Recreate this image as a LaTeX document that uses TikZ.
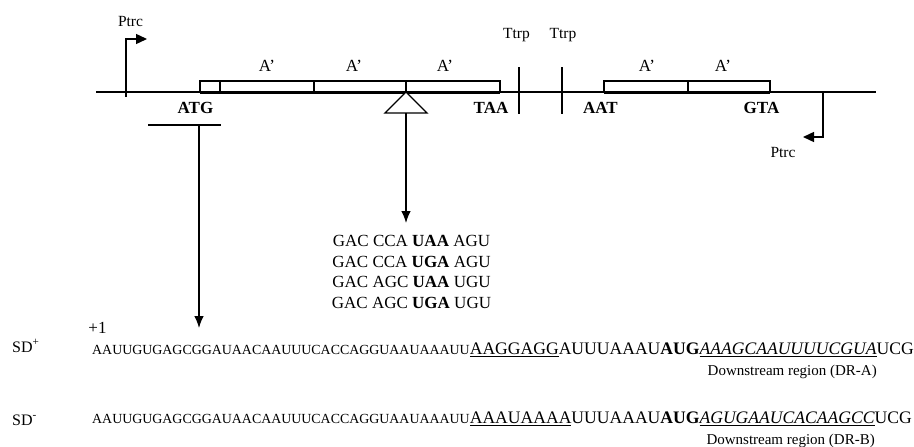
\documentclass[tikz,border=0pt]{standalone}
\usepackage{fontspec}
\setmainfont{Liberation Serif}
\usetikzlibrary{arrows.meta}

% smaller type for the 5' leader of the mRNA
\newcommand\leaderseq[1]{{\fontsize{13.9}{14}\selectfont #1}}
% underline set a little below the baseline
\newsavebox\ulbox
\newcommand\ulseq[1]{\sbox\ulbox{#1}\rlap{\rule[-3.2pt]{\wd\ulbox}{0.9pt}}\usebox\ulbox}

\begin{document}
\begin{tikzpicture}[x=1pt,y=-1pt,
  lab/.style={font=\fontsize{17}{17}\selectfont, inner sep=0pt, anchor=base},
  plab/.style={font=\fontsize{15.5}{15.5}\selectfont, inner sep=0pt, anchor=base},
  seq/.style={font=\fontsize{17.6}{17.6}\selectfont, inner sep=0pt, anchor=base west},
  drlab/.style={font=\fontsize{15}{15}\selectfont, inner sep=0pt, anchor=base east},
  sdlab/.style={font=\fontsize{16}{16}\selectfont, inner sep=0pt, anchor=base west},
  dna/.style={line width=1.3pt},
  gene/.style={line width=1.1pt},
  genebase/.style={line width=3pt},
  pointer/.style={line width=1.2pt, -{Latex[length=12pt,width=9.5pt]}},
  promoter/.style={line width=1.4pt, -{Triangle[length=11pt,width=10pt]}},
]
\fill[white] (0,0) rectangle (914,447);
\useasboundingbox (0,0) rectangle (914,447);

% plasmid backbone
\coordinate (bbL) at (96,92);
\coordinate (bbR) at (876,92);
\draw[dna] (bbL) -- (bbR);

% first gene block with repeated A' segments
\draw[gene, fill=white] (200,81) rectangle (500,92);
\foreach \xx in {220,314,406} \draw[gene] (\xx,81) -- (\xx,92);
\draw[genebase] (200,92) -- (500,92);
\node[lab] (a1) at (267,71) {A'};
\node[lab] (a2) at (354,71) {A'};
\node[lab] (a3) at (445,71) {A'};
\node[lab,font=\fontsize{17}{17}\selectfont\bfseries] (atg) at (195.5,113) {ATG};
\node[lab,font=\fontsize{17}{17}\selectfont\bfseries] (taa) at (491,113) {TAA};

% second gene block
\draw[gene, fill=white] (604,81) rectangle (770,92);
\draw[gene] (688,81) -- (688,92);
\draw[genebase] (604,92) -- (770,92);
\node[lab] (a4) at (647,71) {A'};
\node[lab] (a5) at (723,71) {A'};
\node[lab,font=\fontsize{17}{17}\selectfont\bfseries] (aat) at (600.5,113) {AAT};
\node[lab,font=\fontsize{17}{17}\selectfont\bfseries] (gta) at (761.5,113) {GTA};

% terminators
\draw[dna] (519,67) -- (519,114);
\draw[dna] (562,67) -- (562,114);
\node[plab] (t1) at (516.5,38) {Ttrp};
\node[plab] (t2) at (563,38) {Ttrp};

% promoters
\coordinate (p1foot) at (126,97);
\coordinate (p1tip) at (147,39);
\draw[promoter] (p1foot) |- (p1tip);
\node[plab] (ptrc1) at (130.5,27) {Ptrc};
\coordinate (p2foot) at (823,92);
\coordinate (p2tip) at (803,137);
\draw[promoter] (p2foot) |- (p2tip);
\node[plab] (ptrc2) at (783,157) {Ptrc};

% insertion site of the stop-codon linkers
\coordinate (ins) at (406,113);
\draw[dna, fill=white] (406,92) -- (385,113) -- (427,113) -- cycle;
\coordinate (codtip) at (406,223);
\draw[pointer] (ins) -- (codtip);
\node[lab] (c1) at (411.5,246) {GAC CCA \textbf{UAA} AGU};
\node[lab] (c2) at (411.5,267) {GAC CCA \textbf{UGA} AGU};
\node[lab] (c3) at (411.5,287) {GAC AGC \textbf{UAA} UGU};
\node[lab] (c4) at (411.5,308) {GAC AGC \textbf{UGA} UGU};

% transcription start pointer
\coordinate (barL) at (148,125);
\coordinate (barR) at (221,125);
\draw[dna] (barL) -- (barR);
\coordinate (tss) at (199,125);
\coordinate (tsstip) at (199,328);
\draw[pointer] (tss) -- (tsstip);
\node[lab] (plus1) at (97.5,333) {+1};

% leader sequences
\node[sdlab] (sdp) at (12,352) {SD\textsuperscript{+}};
\node[seq] (seqA) at (92,354) {\leaderseq{AAUUGUGAGCGGAUAACAAUUUCACCAGGUAAUAAAUU}\ulseq{AAGGAGG}AUUUAAAU\textbf{AUG}\ulseq{\textit{AAAGCAAUUUUCGUA}}UCG};
\node[drlab] (drA) at (877,375) {Downstream region (DR-A)};

\node[sdlab] (sdm) at (12,425) {SD\textsuperscript{-}};
\node[seq] (seqB) at (92,423) {\leaderseq{AAUUGUGAGCGGAUAACAAUUUCACCAGGUAAUAAAUU}\ulseq{AAAUAAAA}UUUAAAU\textbf{AUG}\ulseq{\textit{AGUGAAUCACAAGCC}}UCG};
\node[drlab] (drB) at (875,444) {Downstream region (DR-B)};
\end{tikzpicture}
\end{document}
